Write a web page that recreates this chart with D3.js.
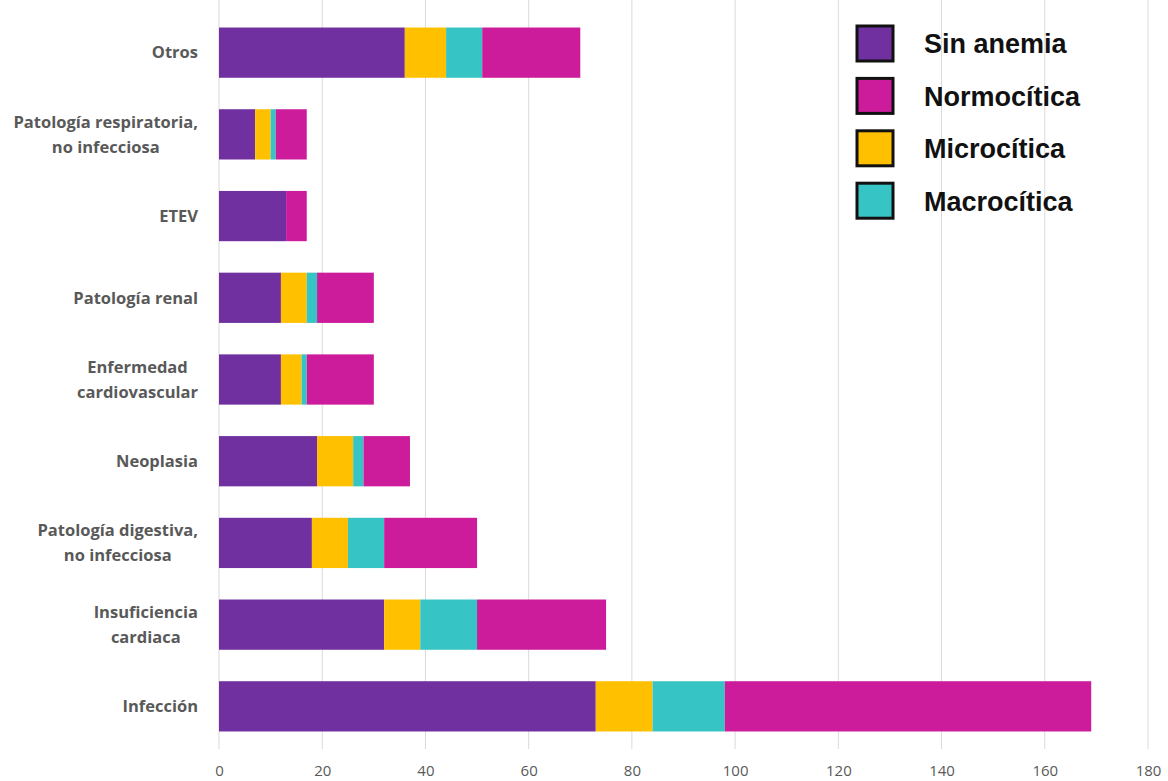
<!DOCTYPE html>
<html>
<head>
<meta charset="utf-8">
<script src="https://cdn.jsdelivr.net/npm/d3@7"></script>
<style>
  body { margin: 0; background: #fff; }
  .tick text { fill: #595959; }
</style>
</head>
<body>
<div id="chart-area"></div>
<script>
/*
*    stackedBar.js
*   horizontal stacked bars, anemia type per diagnosis
*/

// categories, top to bottom as drawn
var categories = [
  "Otros",
  "Patología respiratoria,\nno infecciosa",
  "ETEV",
  "Patología renal",
  "Enfermedad\ncardiovascular",
  "Neoplasia",
  "Patología digestiva,\nno infecciosa",
  "Insuficiencia\ncardiaca",
  "Infección"
];

// series values (same order as categories)
var sinAnemia   = [36, 7, 13, 12, 12, 19, 18, 32, 73];
var microcitica = [8, 3, 0, 5, 4, 7, 7, 7, 11];
var macrocitica = [7, 1, 0, 2, 1, 2, 7, 11, 14];
var normocitica = [19, 6, 4, 11, 13, 9, 18, 25, 71];

// stack order (left to right) and legend order
var stackKeys  = ["Sin anemia", "Microcítica", "Macrocítica", "Normocítica"];
var legendKeys = ["Sin anemia", "Normocítica", "Microcítica", "Macrocítica"];
var seriesColours = ["#7030a0", "#ffc000", "#36c5c4", "#cc1b9b"];

var xTicks = [0, 20, 40, 60, 80, 100, 120, 140, 160, 180];


StackedBar = function(_parentElement){
  var vis = this;
  this.parentElement = _parentElement;
  this.initVis();
};

StackedBar.prototype.initVis = function(){
  var vis = this;

  vis.margin = { left: 219, right: 20, top: 12, bottom: 34 };
  vis.width = 1168 - vis.margin.left - vis.margin.right;
  vis.height = 781 - vis.margin.top - vis.margin.bottom;

  vis.svg = d3.select(vis.parentElement)
      .append("svg")
      .attr("width", 1168)
      .attr("height", 781);
  vis.g = vis.svg.append("g")
      .attr("transform", "translate(" + vis.margin.left + ", " + vis.margin.top + ")");

  vis.x = d3.scaleLinear().domain([0, 180]).range([0, 929]);
  vis.y = d3.scaleBand()
      .domain(categories)
      .range([0, vis.height])
      .paddingInner(0.385)
      .paddingOuter(0.19);

  vis.colour = d3.scaleOrdinal().domain(stackKeys).range(seriesColours);

  // gridlines
  vis.g.append("g")
      .attr("class", "grid")
      .selectAll("line")
      .data(xTicks)
      .enter().append("line")
        .attr("x1", function(d){ return vis.x(d); })
        .attr("x2", function(d){ return vis.x(d); })
        .attr("y1", -vis.margin.top)
        .attr("y2", vis.height + 2)
        .attr("stroke", "#d9d9d9")
        .attr("stroke-width", 1);

  // x axis, labels only
  vis.xAxisCall = d3.axisBottom(vis.x).tickValues(xTicks).tickSize(0).tickPadding(18);
  vis.xAxis = vis.g.append("g")
      .attr("class", "x axis")
      .attr("transform", "translate(0," + vis.height + ")")
      .call(vis.xAxisCall);
  vis.xAxis.select(".domain").remove();
  vis.xAxis.selectAll("text")
      .attr("font-family", "'Open Sans', sans-serif")
      .attr("font-size", "15px");

  vis.wrangleData();
};

StackedBar.prototype.wrangleData = function(){
  var vis = this;
  vis.table = categories.map(function(c, i){
    return {
      category: c,
      "Sin anemia": sinAnemia[i],
      "Microcítica": microcitica[i],
      "Macrocítica": macrocitica[i],
      "Normocítica": normocitica[i]
    };
  });
  vis.stacked = d3.stack().keys(stackKeys)(vis.table);
  vis.updateVis();
};

StackedBar.prototype.updateVis = function(){
  var vis = this;

  // bars
  var layers = vis.g.selectAll("g.layer")
      .data(vis.stacked)
      .enter().append("g")
        .attr("class", "layer")
        .attr("fill", function(d){ return vis.colour(d.key); });

  layers.selectAll("rect")
      .data(function(d){ return d; })
      .enter().append("rect")
        .attr("x", function(d){ return vis.x(d[0]); })
        .attr("y", function(d){ return vis.y(d.data.category); })
        .attr("width", function(d){ return vis.x(d[1]) - vis.x(d[0]); })
        .attr("height", vis.y.bandwidth());

  // category labels (multi line, centred block, right aligned)
  var labelRight = -21;
  var lineH = 25;
  vis.g.selectAll("g.catLabel")
      .data(categories)
      .enter().append("g")
        .attr("class", "catLabel")
        .each(function(c){
          var grp = d3.select(this);
          var lines = c.split("\n");
          var cy = vis.y(c) + vis.y.bandwidth() / 2;
          var texts = lines.map(function(l, i){
            return grp.append("text")
                .attr("y", cy + (i - (lines.length - 1) / 2) * lineH)
                .attr("dy", "0.35em")
                .attr("text-anchor", "middle")
                .attr("font-family", "'Open Sans', sans-serif")
                .attr("font-weight", 700)
                .attr("font-size", "16.5px")
                .attr("fill", "#595959")
                .text(l);
          });
          var w = d3.max(texts, function(t){ return t.node().getComputedTextLength(); });
          texts.forEach(function(t){ t.attr("x", labelRight - w / 2); });
        });

  // legend
  var legend = vis.svg.append("g")
      .attr("class", "legend")
      .attr("transform", "translate(857, 26)");

  var items = legend.selectAll("g")
      .data(legendKeys)
      .enter().append("g")
        .attr("transform", function(d, i){ return "translate(0," + (i * 52.4) + ")"; });

  items.append("rect")
      .attr("width", 36)
      .attr("height", 35)
      .attr("fill", function(d){ return vis.colour(d); })
      .attr("stroke", "#111")
      .attr("stroke-width", 3);

  items.append("text")
      .attr("x", 67)
      .attr("y", 18)
      .attr("dy", "0.35em")
      .attr("font-family", "'Liberation Sans', Arial, sans-serif")
      .attr("font-weight", 700)
      .attr("font-size", "27px")
      .attr("fill", "#111")
      .text(function(d){ return d; });
};

var chart = new StackedBar("#chart-area");
</script>
</body>
</html>
